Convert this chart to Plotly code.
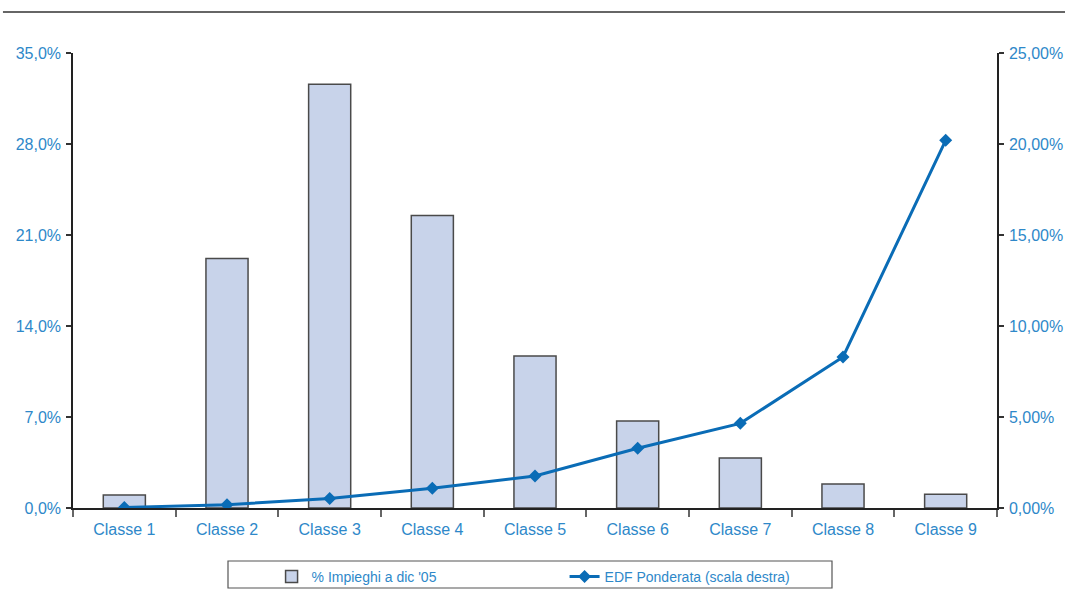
import plotly.graph_objects as go

categories = ["Classe 1", "Classe 2", "Classe 3", "Classe 4", "Classe 5",
              "Classe 6", "Classe 7", "Classe 8", "Classe 9"]
impieghi = [1.0, 19.2, 32.6, 22.5, 11.7, 6.7, 3.85, 1.85, 1.05]
edf = [0.03, 0.18, 0.52, 1.08, 1.76, 3.28, 4.65, 8.3, 20.2]

BLUE_TXT = "#2e88c9"
FONT = "Liberation Sans, Arial, sans-serif"

fig = go.Figure()
fig.add_trace(go.Bar(
    x=categories, y=impieghi, name="% Impieghi a dic '05",
    marker=dict(color="#c8d3ea", line=dict(color="#4a4a4a", width=1.5)),
    width=0.41, yaxis="y",
))
fig.add_trace(go.Scatter(
    x=categories, y=edf, name="EDF Ponderata (scala destra)",
    mode="lines+markers", yaxis="y2",
    line=dict(color="#0a6cb6", width=3),
    marker=dict(symbol="diamond", size=10, color="#0a6cb6"),
))

fig.update_layout(
    width=1068, height=605,
    margin=dict(l=73, r=71, t=53, b=97, autoexpand=False),
    paper_bgcolor="white", plot_bgcolor="white",
    separators=",.",
    font=dict(family=FONT, size=16, color=BLUE_TXT),
    showlegend=True,
    xaxis=dict(
        type="category", showgrid=False, showline=True, linecolor="#222222", linewidth=1.5,
        ticks="outside", ticklen=7, tickcolor="#666666", tickwidth=1.5,
        tickson="boundaries", tickfont=dict(size=16, color=BLUE_TXT),
        ticklabelstandoff=6, automargin=False,
        range=[-0.5, 8.5],
    ),
    yaxis=dict(
        range=[0, 35], dtick=7, tick0=0, tickformat=".1f", ticksuffix="%",
        showgrid=False, zeroline=False, showline=True, linecolor="#222222", linewidth=1.5,
        ticks="outside", ticklen=5, tickcolor="#333333", tickwidth=1.5,
        tickfont=dict(size=16, color=BLUE_TXT), ticklabelstandoff=2, automargin=False,
    ),
    yaxis2=dict(
        range=[0, 25], dtick=5, tick0=0, tickformat=".2f", ticksuffix="%",
        overlaying="y", side="right",
        showgrid=False, zeroline=False, showline=True, linecolor="#222222", linewidth=1.5,
        ticks="outside", ticklen=5, tickcolor="#333333", tickwidth=1.5,
        tickfont=dict(size=16, color=BLUE_TXT), ticklabelstandoff=2, automargin=False,
    ),
    legend=dict(
        orientation="h", x=0.532, xanchor="center", y=-0.116, yanchor="top",
        bgcolor="rgba(0,0,0,0)", borderwidth=0,
        font=dict(size=14, color=BLUE_TXT, family=FONT),
        entrywidth=248, traceorder="normal",
    ),
    shapes=[
        dict(type="line", xref="paper", yref="paper",
             x0=-0.0758, x1=1.0736, y0=1.0901, y1=1.0901,
             line=dict(color="#333333", width=1.5)),
        dict(type="rect", xref="paper", yref="paper",
             x0=(228 - 73) / 924, x1=(832 - 73) / 924,
             y0=(508 - 561) / 455, y1=(508 - 588) / 455,
             line=dict(color="#555555", width=1.2)),
    ],
)

fig.write_html("out.html")
